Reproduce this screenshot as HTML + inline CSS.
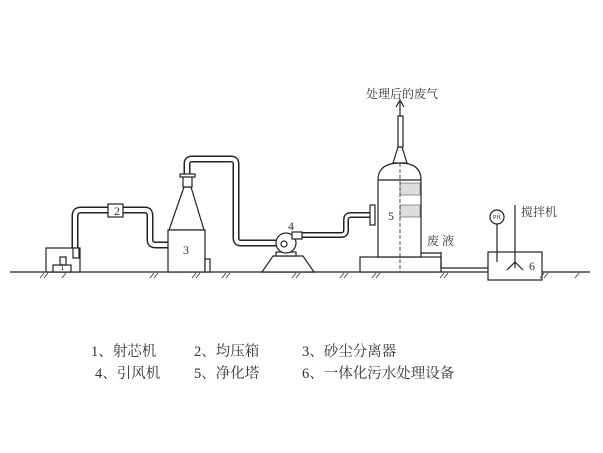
<!DOCTYPE html>
<html><head><meta charset="utf-8"><style>
html,body{margin:0;padding:0;background:#fff;width:603px;height:453px;overflow:hidden}
svg{display:block}
text{font-family:"Liberation Serif","Noto Serif CJK SC",serif;fill:#333}
</style></head><body>
<svg width="603" height="453" viewBox="0 0 603 453" xmlns="http://www.w3.org/2000/svg">
<g fill="none" stroke="#222" stroke-width="1.2">
<!-- ground -->
<line x1="10" y1="272" x2="590" y2="272"/>
</g>
<!-- pipes: double line -->
<g fill="none" stroke-linejoin="round" stroke-linecap="butt">
<path d="M75,250 V216 Q75,210 81,210 H145 Q150,210 150,216 V240 Q150,245 156,245 H168" stroke="#222" stroke-width="7"/>
<path d="M75,250 V216 Q75,210 81,210 H145 Q150,210 150,216 V240 Q150,245 156,245 H168" stroke="#fff" stroke-width="4"/>
<path d="M187,178 V164 Q187,159 192,159 H231 Q236,159 236,164 V238 Q236,243 241,243 H284" stroke="#222" stroke-width="7"/>
<path d="M187,178 V164 Q187,159 192,159 H231 Q236,159 236,164 V238 Q236,243 241,243 H284" stroke="#fff" stroke-width="4"/>
<path d="M300,235 H341 Q346,235 346,230 V220 Q346,215 351,215 H372" stroke="#222" stroke-width="6"/>
<path d="M300,235 H341 Q346,235 346,230 V220 Q346,215 351,215 H372" stroke="#fff" stroke-width="3"/>
</g>
<g fill="#fff" stroke="#222" stroke-width="1.2">
<!-- 1 -->
<rect x="46" y="248" width="34" height="24"/>
<rect x="53" y="265" width="18" height="7"/>
<rect x="60" y="257" width="6" height="8"/>
<rect x="73" y="248" width="6" height="10"/>
<!-- 2 -->
<rect x="108" y="204" width="15" height="13"/>
<!-- 3 -->
<polygon points="169,230 204,230 191,187 184,187"/>
<rect x="168" y="230" width="37" height="42"/>
<rect x="205" y="259" width="5" height="13"/>
<rect x="183" y="176" width="9" height="11"/>
<rect x="180" y="174" width="15" height="3"/>
<!-- 4 fan -->
<polygon points="262,272 314,272 303,256 273,256"/>
<rect x="276" y="252" width="20" height="4"/>
<circle cx="286" cy="243" r="10"/>
<rect x="292" y="232" width="10" height="7"/>
<circle cx="284" cy="244" r="3"/>
<!-- 5 tower -->
<rect x="360" y="257" width="81" height="15"/>
<path d="M378,257 V180 Q378,163 400,163 Q421,163 421,180 V257 Z"/>
<polygon points="393,163 407,163 402,147 398,147"/>
<rect x="398" y="116" width="5" height="31"/>
<rect x="370" y="205" width="5" height="20"/>
<line x1="378" y1="180" x2="421" y2="180"/>
<line x1="441" y1="252" x2="441" y2="268"/>
<line x1="421" y1="253" x2="441" y2="253"/>
<line x1="441" y1="268" x2="488" y2="268"/>
<!-- 6 tank -->
<rect x="488" y="252" width="54" height="28"/>
<circle cx="497" cy="217" r="7"/>
<line x1="497" y1="224" x2="497" y2="262"/>
<line x1="515" y1="205" x2="515" y2="268"/>
<polyline points="507,270 515,262 523,270" fill="none"/>
</g>
<!-- packing -->
<g stroke="#555" stroke-width="0.6">
<rect x="400" y="183" width="20" height="12" fill="#ddd"/>
<rect x="400" y="205" width="20" height="12" fill="#ddd"/>
</g>
<line x1="400" y1="163" x2="400" y2="272" stroke="#222" stroke-width="0.8" stroke-dasharray="4,2"/>
<!-- arrow -->
<path d="M400,116 V102 M396,107 L400,100 L404,107" stroke="#222" fill="none" stroke-width="1.2"/>
<g font-size="6" fill="#333"><text x="493" y="219">PH</text></g>
<!-- ground hatch -->
<g stroke="#333" stroke-width="0.8" fill="none">
<path d="M40,278 l4,-5 M44,278 l4,-5 M62,278 l4,-5 M150,278 l4,-5 M154,278 l4,-5 M192,278 l4,-5 M196,278 l4,-5 M222,278 l4,-5 M226,278 l4,-5 M292,278 l4,-5 M296,278 l4,-5 M340,278 l4,-5 M344,278 l4,-5 M372,278 l4,-5 M376,278 l4,-5 M440,278 l4,-5 M444,278 l4,-5 M540,278 l4,-5 M544,278 l4,-5 M575,278 l4,-5"/>
</g>
<g font-size="12">
<text x="114" y="215">2</text>
<text x="183" y="254">3</text>
<text x="288" y="230">4</text>
<text x="388" y="220">5</text>
<text x="529" y="270">6</text>
<text x="60" y="270" font-size="9">1</text>
</g>
<g font-size="12">
<text x="366" y="98">处理后的废气</text>
<text x="427" y="245">废  液</text>
<text x="521" y="216">搅拌机</text>
</g>
<g font-size="14.5">
<text x="91" y="356">1、射芯机</text>
<text x="194" y="356">2、均压箱</text>
<text x="302" y="356">3、砂尘分离器</text>
<text x="95" y="378">4、引风机</text>
<text x="194" y="378">5、净化塔</text>
<text x="302" y="378">6、一体化污水处理设备</text>
</g>
</svg>
</body></html>
